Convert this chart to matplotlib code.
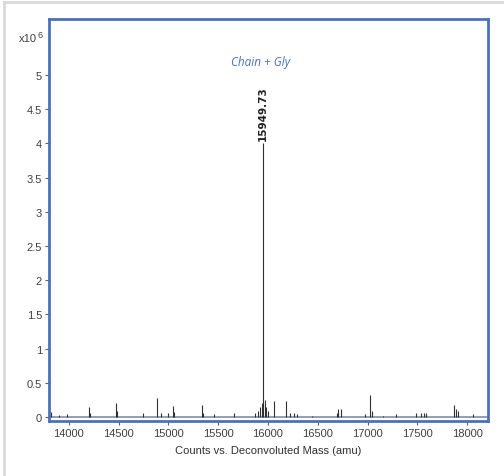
import matplotlib
matplotlib.use('Agg')
import matplotlib.pyplot as plt
from matplotlib.lines import Line2D
from matplotlib.ticker import FormatStrFormatter

# deconvoluted peaks: mass (amu) and counts (x10^6)
mass = [13819, 13900, 13980, 14201, 14215, 14471, 14485, 14742, 14883, 14923,
        14993, 15043, 15055, 15334, 15348, 15454, 15655, 15870, 15900, 15920,
        15935, 15949.73, 15965, 15980, 16000, 16056, 16177, 16217, 16257, 16287,
        16447, 16698, 16708, 16738, 16979, 17029, 17049, 17160, 17290, 17491,
        17541, 17571, 17591, 17872, 17892, 17912, 18062]
counts = [0.07, 0.03, 0.04, 0.15, 0.06, 0.20, 0.09, 0.05, 0.28, 0.05,
          0.05, 0.16, 0.07, 0.17, 0.06, 0.04, 0.06, 0.05, 0.08, 0.15,
          0.20, 4.0, 0.25, 0.15, 0.08, 0.23, 0.23, 0.05, 0.05, 0.04,
          0.02, 0.05, 0.12, 0.11, 0.04, 0.32, 0.08, 0.02, 0.04, 0.05,
          0.06, 0.05, 0.06, 0.17, 0.12, 0.09, 0.04]
main_mass = 15949.73
main_counts = 4.0

xticks = [14000, 14500, 15000, 15500, 16000, 16500, 17000, 17500, 18000]
yticks = [0, 0.5, 1, 1.5, 2, 2.5, 3, 3.5, 4, 4.5, 5]

blue = '#4a72bc'
tickfont = ['Liberation Sans', 'DejaVu Sans']

fig = plt.figure(figsize=(5.04, 4.77), dpi=100)
ax = fig.add_axes([49/504, 1-422/477, 439/504, 402/477])

# light grey outer frame
fig.add_artist(Line2D([4/504, 4/504], [0, 1-3/477], color='#d9d9d9', lw=2, transform=fig.transFigure))
fig.add_artist(Line2D([4/504, 1], [1-3/477, 1-3/477], color='#d9d9d9', lw=2, transform=fig.transFigure))

ax.axhline(0, color='#7f8fa6', lw=1.2)
ax.vlines(mass, 0, counts, color='#303030', lw=0.8)

ax.set_xlim(13800, 18210)
ax.set_ylim(-0.06, 5.82)
ax.set_xticks(xticks)
ax.set_yticks(yticks)
ax.yaxis.set_major_formatter(FormatStrFormatter('%g'))

for s in ax.spines.values():
    s.set_color(blue)
    s.set_linewidth(2.0)

ax.tick_params(axis='both', direction='out', length=3, width=0.8, color='#606060',
               labelsize=8, labelcolor='#404040', pad=2)
for lab in ax.get_xticklabels() + ax.get_yticklabels():
    lab.set_family(tickfont)

ax.set_xlabel('Counts vs. Deconvoluted Mass (amu)', fontsize=8, color='#303030',
              family=tickfont, labelpad=5)

fig.text(19/504, 1-39/477, 'x10', fontsize=8, color='#404040', family=tickfont, va='center')
fig.text(37/504, 1-35/477, '6', fontsize=6.5, color='#404040', family=tickfont, va='center')

ax.text(main_mass, main_counts + 0.05, '%.2f' % main_mass, rotation=90, ha='center', va='bottom',
        fontsize=7.5, fontweight='bold', color='#202020')
ax.text(15930, 5.2, 'Chain + Gly', fontsize=8.5, style='italic', color=blue, ha='center',
        va='center', family=['Open Sans', 'DejaVu Sans'])

fig.savefig('out.png', dpi=100)
